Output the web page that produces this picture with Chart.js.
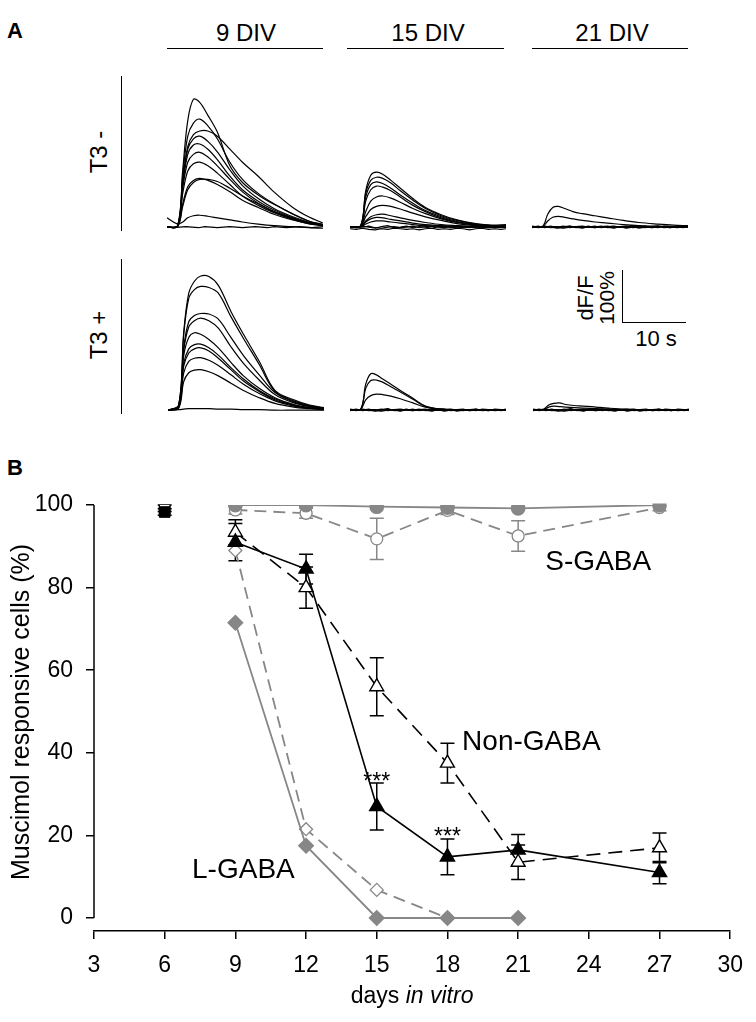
<!DOCTYPE html>
<html>
<head>
<meta charset="utf-8">
<script src="https://cdn.jsdelivr.net/npm/chart.js@4.4.1/dist/chart.umd.min.js"></script>
<style>
  body { margin: 0; background: #fff; font-family: "Liberation Sans", Arial, sans-serif; }
  #page { position: relative; width: 756px; height: 1022px; overflow: hidden; background: #fff; }
  .txt { position: absolute; line-height: 1; color: #000; white-space: nowrap; }
  .rot { transform: translate(-50%, -50%) rotate(-90deg); }
  .ln { position: absolute; background: #000; }
  canvas { position: absolute; }
</style>
</head>
<body>
<div id="page">
  <!-- Panel A decorations -->
  <div class="txt" style="left:7px; top:20px; font-size:22px; font-weight:bold;">A</div>
  <div class="txt" style="left:196px; top:21px; width:100px; text-align:center; font-size:24px;">9 DIV</div>
  <div class="txt" style="left:378px; top:21px; width:100px; text-align:center; font-size:24px;">15 DIV</div>
  <div class="txt" style="left:562px; top:21px; width:100px; text-align:center; font-size:24px;">21 DIV</div>
  <div class="ln" style="left:167px; top:47.5px; width:156px; height:1.5px;"></div>
  <div class="ln" style="left:347px; top:47.5px; width:157px; height:1.5px;"></div>
  <div class="ln" style="left:532px; top:47.5px; width:156px; height:1.5px;"></div>
  <div class="ln" style="left:120.5px; top:76px; width:1.5px; height:155px;"></div>
  <div class="ln" style="left:120.5px; top:259px; width:1.5px; height:155px;"></div>
  <div class="txt rot" style="left:99px; top:152px; font-size:24px;">T3 -</div>
  <div class="txt rot" style="left:99px; top:335px; font-size:24px;">T3 +</div>
  <!-- scale bar -->
  <div class="ln" style="left:621.5px; top:270px; width:1.5px; height:53px;"></div>
  <div class="ln" style="left:621.5px; top:321.5px; width:64px; height:1.5px;"></div>
  <div class="txt rot" style="left:586px; top:298px; font-size:22px;">dF/F</div>
  <div class="txt rot" style="left:606px; top:298px; font-size:21px;">100%</div>
  <div class="txt" style="left:616px; top:328px; width:80px; text-align:center; font-size:22px;">10 s</div>

  <canvas id="aM9" width="156" height="146" style="left:167px; top:89px;"></canvas>
  <canvas id="aM15" width="156" height="146" style="left:350px; top:89px;"></canvas>
  <canvas id="aM21" width="156" height="146" style="left:532px; top:89px;"></canvas>
  <canvas id="aP9" width="156" height="146" style="left:168px; top:272px;"></canvas>
  <canvas id="aP15" width="156" height="146" style="left:350px; top:272px;"></canvas>
  <canvas id="aP21" width="156" height="146" style="left:533px; top:272px;"></canvas>

  <!-- Panel B -->
  <div class="txt" style="left:7px; top:457px; font-size:22px; font-weight:bold;">B</div>
  <canvas id="chartB" width="756" height="582" style="left:0; top:440px;"></canvas>
</div>

<script>
// ----------------- Panel A data (dF/F in %, time in s) -----------------
const traceTimes = [0, 1.7, 2.5, 3.3, 4.2, 5.2, 6.5, 8, 10, 12, 14.5, 17, 20, 22.5, 24.8];
const noiseTimes = [0, 1, 2, 3, 4, 5, 6, 7, 8, 9, 10, 11, 12, 13, 14, 15, 16, 17, 18, 19, 20, 21, 22, 23, 24, 24.8];

const t3Minus9 = [
  [0, 3, 110, 205, 246, 240, 215, 183, 118, 86, 62, 44, 26, 12, 5],
  [0, 3, 100, 175, 200, 208, 195, 170, 125, 92, 65, 45, 25, 12, 5],
  [0, 2, 90, 155, 178, 185, 185, 175, 150, 125, 98, 68, 38, 20, 8],
  [0, 2, 85, 150, 170, 175, 165, 145, 110, 80, 55, 36, 20, 10, 4],
  [0, 2, 80, 140, 158, 160, 150, 130, 98, 72, 50, 33, 18, 9, 4],
  [0, 2, 75, 125, 140, 144, 135, 118, 92, 68, 46, 30, 17, 8, 3],
  [0, 2, 65, 108, 122, 125, 118, 104, 82, 60, 42, 28, 15, 7, 3],
  [0, 2, 45, 78, 90, 94, 90, 82, 68, 52, 38, 25, 14, 7, 3],
  [0, 2, 40, 72, 86, 92, 92, 88, 75, 60, 45, 30, 17, 8, 4],
  [18, 6, 10, 18, 22, 23, 21, 18, 14, 10, 6, 3, 1, -1, -2]
];
const t3Minus15 = [
  [0, 3, 70, 100, 106, 102, 90, 75, 55, 38, 24, 14, 7, 4, 5],
  [0, 3, 65, 90, 96, 94, 85, 70, 52, 36, 22, 13, 6, 3, 3],
  [0, 2, 58, 82, 87, 84, 75, 62, 46, 32, 20, 11, 5, 3, 2],
  [0, 2, 50, 72, 79, 77, 70, 58, 42, 30, 18, 10, 5, 2, 2],
  [0, 2, 30, 50, 58, 60, 56, 48, 36, 26, 16, 9, 4, 2, 1],
  [0, 2, 20, 34, 40, 42, 40, 35, 27, 20, 13, 7, 3, 1, 1],
  [0, 1, 12, 20, 24, 25, 22, 18, 13, 9, 5, 3, 1, 0, 0],
  [0, 1, 10, 16, 19, 18, 15, 12, 8, 5, 3, 1, 0, 0, 0],
  [0, 1, 6, 10, 12, 12, 10, 8, 5, 3, 2, 1, 0, 0, 0]
];
const t3Minus21 = [
  [0, 2, 25, 38, 40, 36, 30, 26, 22, 18, 13, 9, 6, 4, 3],
  [0, 1, 12, 19, 21, 19, 16, 13, 10, 8, 5, 3, 2, 1, 1]
];
const t3Plus9 = [
  [0, 10, 150, 225, 248, 258, 257, 240, 190, 146, 94, 38, 20, 10, 5],
  [0, 10, 145, 215, 232, 238, 236, 225, 180, 138, 88, 36, 18, 9, 4],
  [0, 8, 120, 170, 182, 186, 185, 175, 140, 105, 68, 34, 16, 8, 4],
  [0, 8, 115, 160, 172, 177, 172, 158, 122, 90, 58, 30, 14, 7, 3],
  [0, 8, 105, 140, 149, 146, 136, 120, 92, 66, 42, 24, 11, 5, 2],
  [0, 6, 90, 118, 126, 127, 120, 106, 82, 60, 38, 22, 10, 5, 2],
  [0, 6, 85, 110, 118, 120, 114, 100, 78, 56, 36, 20, 9, 4, 2],
  [0, 5, 72, 94, 100, 101, 96, 86, 68, 50, 32, 18, 8, 4, 2],
  [0, 4, 55, 72, 77, 78, 74, 66, 52, 38, 24, 13, 6, 3, 1],
  [0, 1, 2, 3, 3, 3, 3, 2, 2, 1, 1, 0, 0, 0, 0]
];
const t3Plus15 = [
  [0, 2, 50, 70, 68, 60, 50, 38, 23, 8, 2, 0, 1, 0, 0],
  [0, 2, 42, 57, 58, 54, 45, 35, 21, 7, 2, 0, 0, 1, 0],
  [0, 2, 20, 28, 31, 30, 27, 22, 14, 6, 2, 1, 0, 0, 0]
];
const t3Plus21 = [
  [0, 2, 10, 13, 14, 11, 9, 8, 6, 4, 2, 1, 0, 1, 0],
  [0, 1, 6, 8, 7, 6, 5, 4, 3, 2, 1, 0, 0, 0, 0]
];

// baseline (non-responding) traces, one list per panel
const noiseMinus9 = [
  [1, -1, 0, 1, 0, -1, 1, 0, -1, 0, 1, 0, -1, 0, 1, 0, -1, 1, 0, -1, 0, 1, 0, -1, 0, 1]
];
const noiseMinus15 = [
  [1, -1, 2, 0, -2, 1, 3, -1, 0, 2, -1, 1, 0, -2, 1, 2, -1, 0, 1, -1, 2, 0, -1, 1, 0, 2],
  [-1, 1, 0, 2, -1, -2, 0, 1, -1, 0, 2, -1, 1, 2, 0, -1, 1, -2, 0, 1, -1, 2, 1, -1, 0, 1],
  [-3, -4, -2, -4, -5, -3, -4, -2, -3, -4, -3, -5, -3, -2, -4, -3, -4, -2, -3, -5, -3, -2, -4, -3, -4, -3]
];
const noiseMinus21 = [
  [1, -1, 2, 0, -2, 1, 2, -1, 0, 2, -1, 1, 0, -2, 1, 2, -1, 0, 1, -1, 2, 0, -1, 1, 0, 1],
  [0, 2, -1, 1, 1, -1, 2, 0, -2, 1, 0, 2, -1, 0, 1, -2, 0, 1, 2, -1, 0, 1, -1, 2, 1, 0],
  [2, 0, 1, -1, 0, 2, -1, 1, 2, 0, -1, 1, 2, -1, 0, 1, 2, 0, -1, 1, 2, -1, 0, 1, -1, 1],
  [-1, 1, 0, 2, -1, -2, 0, 1, -1, 0, 2, -1, 1, 2, 0, -1, 1, -2, 0, 1, -1, 2, 1, -1, 0, 0]
];
const noisePlus15 = [
  [1, -1, 2, 0, -2, 1, 3, -1, 0, 2, -1, 1, 0, -2, 1, 2, -1, 0, 1, -1, 2, 0, -1, 1, 0, 2],
  [-1, 1, 0, 2, -1, -2, 0, 1, -1, 0, 2, -1, 1, 2, 0, -1, 1, -2, 0, 1, -1, 2, 1, -1, 0, 1],
  [0, 2, -1, 1, 1, -1, 2, 0, -2, 1, 0, 2, -1, 0, 1, -2, 0, 1, 2, -1, 0, 1, -1, 2, 1, 0],
  [2, 0, 1, -1, 0, 2, -1, 1, 2, 0, -1, 1, 2, -1, 0, 1, 2, 0, -1, 1, 2, -1, 0, 1, -1, 1]
];
const noisePlus21 = [
  [1, -1, 2, 0, -2, 1, 3, -1, 0, 2, -1, 1, 0, -2, 1, 2, -1, 0, 1, -1, 2, 0, -1, 1, 0, 2],
  [-1, 1, 0, 2, -1, -2, 0, 1, -1, 0, 2, -1, 1, 2, 0, -1, 1, -2, 0, 1, -1, 2, 1, -1, 0, 1],
  [0, 2, -1, 1, 1, -1, 2, 0, -2, 1, 0, 2, -1, 0, 1, -2, 0, 1, 2, -1, 0, 1, -1, 2, 1, 0],
  [2, 0, 1, -1, 0, 2, -1, 1, 2, 0, -1, 1, 2, -1, 0, 1, 2, 0, -1, 1, 2, -1, 0, 1, -1, 1]
];

// ----------------- Panel B data (% responsive cells) -----------------
const xTicks = [3, 6, 9, 12, 15, 18, 21, 24, 27, 30];
const yTicks = [0, 20, 40, 60, 80, 100];
const day6 = [6];
const allCellsFilled = [98.3];
const allCellsOpen = [99.2];
const allCellsErr = [0.8];
const days = [9, 12, 15, 18, 21, 27];
const sGabaFilled = [100, 100, 99.6, 99.4, 99.2, 100];
const sGabaOpen = [98.8, 98, 91.8, 98.7, 92.5, 99.4];
const sGabaOpenErr = [1, 1.2, 5, 1, 3.7, 0.8];
const nonGabaFilled = [91, 84.5, 27, 14.8, 16.5, 11];
const nonGabaFilledErr = [4.5, 3.6, 5.7, 4.3, 3.7, 2.7];
const nonGabaOpen = [93.4, 80, 56, 37.5, 13.5, 17];
const nonGabaOpenErr = [3, 5, 7, 4.8, 4.2, 3.6];
const lGabaDays = [9, 12, 15, 18, 21];
const lGabaFilled = [71.5, 17.5, 0, 0, 0];
const lGabaOpen = [89, 21.5, 6.8, 0, 0];

// text placed on panel B, in data units
const groupLabels = [
  { text: 'S-GABA', x: 24.4, y: 84.3 },
  { text: 'Non-GABA', x: 21.56, y: 40.7 },
  { text: 'L-GABA', x: 9.34, y: 9.7 }
];
const starLabels = [
  { text: '***', x: 15, y: 31.2 },
  { text: '***', x: 18, y: 17.9 }
];

const FONT = '"Liberation Sans", Arial, sans-serif';
const GRAY = '#878787';

// ----------------- Panel A charts -----------------
function pts(times, values) {
    return values.map((v, i) => ({ x: times[i], y: v }));
}

function traceChart(id, traces, noise) {
    const datasets = [];
    traces.forEach(tr => datasets.push({ data: pts(traceTimes, tr), tension: 0.35 }));
    noise.forEach(nz => datasets.push({ data: pts(noiseTimes, nz), tension: 0 }));
    new Chart(document.getElementById(id), {
        type: 'line',
        data: { datasets: datasets },
        options: {
            responsive: false,
            animation: false,
            layout: { padding: 0 },
            elements: {
                point: { radius: 0 },
                line: { borderColor: '#000', borderWidth: 1.2, fill: false }
            },
            plugins: { legend: { display: false }, tooltip: { enabled: false } },
            scales: {
                x: { type: 'linear', display: false, min: 0, max: 24.8 },
                y: { display: false, min: -15, max: 265.77 }
            }
        }
    });
}

traceChart('aM9', t3Minus9, noiseMinus9);
traceChart('aM15', t3Minus15, noiseMinus15);
traceChart('aM21', t3Minus21, noiseMinus21);
traceChart('aP9', t3Plus9, []);
traceChart('aP15', t3Plus15, noisePlus15);
traceChart('aP21', t3Plus21, noisePlus21);

// ----------------- Panel B chart -----------------
const errorBars = {
    id: 'errorBars',
    beforeDatasetsDraw(chart) {
        const { ctx, scales: { x, y } } = chart;
        chart.data.datasets.forEach(ds => {
            if (!ds.errs) return;
            ctx.save();
            ctx.strokeStyle = ds.borderColor;
            ctx.lineWidth = 1.5;
            ds.data.forEach((p, i) => {
                const e = ds.errs[i];
                if (!e) return;
                const px = x.getPixelForValue(p.x);
                const top = y.getPixelForValue(p.y + e);
                const bot = y.getPixelForValue(p.y - e);
                ctx.beginPath();
                ctx.moveTo(px, top); ctx.lineTo(px, bot);
                ctx.moveTo(px - 7, top); ctx.lineTo(px + 7, top);
                ctx.moveTo(px - 7, bot); ctx.lineTo(px + 7, bot);
                ctx.stroke();
            });
            ctx.restore();
        });
    }
};

const decorations = {
    id: 'decorations',
    afterDraw(chart) {
        const { ctx, chartArea, scales: { x, y } } = chart;
        ctx.save();
        // y axis line, from 0 to 100 only
        ctx.strokeStyle = '#000';
        ctx.lineWidth = 1.5;
        ctx.beginPath();
        ctx.moveTo(chartArea.left, y.getPixelForValue(0));
        ctx.lineTo(chartArea.left, y.getPixelForValue(100));
        ctx.stroke();

        ctx.fillStyle = '#000';
        ctx.textAlign = 'center';
        ctx.textBaseline = 'alphabetic';
        ctx.font = '28px ' + FONT;
        groupLabels.forEach(l => ctx.fillText(l.text, x.getPixelForValue(l.x), y.getPixelForValue(l.y)));
        ctx.font = '23px ' + FONT;
        starLabels.forEach(l => ctx.fillText(l.text, x.getPixelForValue(l.x), y.getPixelForValue(l.y)));

        // y title
        ctx.save();
        ctx.translate(22, 272);
        ctx.rotate(-Math.PI / 2);
        ctx.textBaseline = 'middle';
        ctx.font = '25px ' + FONT;
        ctx.fillText('Muscimol responsive cells (%)', 0, 0);
        ctx.restore();

        // x title with italic part
        const part1 = 'days ';
        const part2 = 'in vitro';
        ctx.textBaseline = 'middle';
        ctx.textAlign = 'left';
        ctx.font = '23px ' + FONT;
        const w1 = ctx.measureText(part1).width;
        ctx.font = 'italic 23px ' + FONT;
        const w2 = ctx.measureText(part2).width;
        const cx = (chartArea.left + chartArea.right) / 2;
        const start = cx - (w1 + w2) / 2;
        ctx.font = '23px ' + FONT;
        ctx.fillText(part1, start, 557);
        ctx.font = 'italic 23px ' + FONT;
        ctx.fillText(part2, start + w1, 557);
        ctx.restore();
    }
};

function series(xs, ys) {
    return xs.map((d, i) => ({ x: d, y: ys[i] }));
}

new Chart(document.getElementById('chartB'), {
    type: 'line',
    data: {
        datasets: [
            {
                data: series(day6, allCellsFilled), errs: allCellsErr,
                borderColor: '#000', backgroundColor: '#000',
                pointStyle: 'rect', pointRadius: 7.5, showLine: false
            },
            {
                data: series(day6, allCellsOpen), errs: allCellsErr,
                borderColor: '#000', backgroundColor: '#fff', pointBorderWidth: 1.3,
                pointStyle: 'rect', pointRadius: 7.5, showLine: false
            },
            {
                data: series(days, sGabaFilled),
                borderColor: GRAY, backgroundColor: GRAY, borderWidth: 1.8,
                pointStyle: 'circle', pointRadius: 6.5
            },
            {
                data: series(days, sGabaOpen), errs: sGabaOpenErr,
                borderColor: GRAY, backgroundColor: '#fff', borderWidth: 1.8, borderDash: [12, 7],
                pointBorderWidth: 1.3, pointStyle: 'circle', pointRadius: 6
            },
            {
                data: series(days, nonGabaFilled), errs: nonGabaFilledErr,
                borderColor: '#000', backgroundColor: '#000', borderWidth: 1.6,
                pointStyle: 'triangle', pointRadius: 8
            },
            {
                data: series(days, nonGabaOpen), errs: nonGabaOpenErr,
                borderColor: '#000', backgroundColor: '#fff', borderWidth: 1.6, borderDash: [14, 8],
                pointBorderWidth: 1.4, pointStyle: 'triangle', pointRadius: 8
            },
            {
                data: series(lGabaDays, lGabaFilled),
                borderColor: GRAY, backgroundColor: GRAY, borderWidth: 1.8,
                pointStyle: 'rectRot', pointRadius: 7
            },
            {
                data: series(lGabaDays, lGabaOpen),
                borderColor: GRAY, backgroundColor: '#fff', borderWidth: 1.8, borderDash: [12, 7],
                pointBorderWidth: 1.3, pointStyle: 'rectRot', pointRadius: 6.5
            }
        ]
    },
    options: {
        responsive: false,
        animation: false,
        layout: { padding: { left: 0, right: 19, top: 65, bottom: 0 } },
        elements: { line: { tension: 0, fill: false }, point: { hoverRadius: 6 } },
        plugins: { legend: { display: false }, tooltip: { enabled: false } },
        scales: {
            x: {
                type: 'linear', min: 3, max: 30,
                afterBuildTicks: s => { s.ticks = xTicks.map(v => ({ value: v })); },
                afterFit: s => { s.height = 91; },
                ticks: { color: '#000', font: { family: FONT, size: 23 }, padding: 13, maxRotation: 0 },
                grid: { drawOnChartArea: false, tickLength: 8, color: '#000', lineWidth: 1.5 },
                border: { display: true, color: '#000', width: 1.5 }
            },
            y: {
                min: -3.15, max: 100,
                afterBuildTicks: s => { s.ticks = yTicks.map(v => ({ value: v })); },
                afterFit: s => { s.width = 94; },
                ticks: { color: '#000', font: { family: FONT, size: 23 }, padding: 13 },
                grid: { drawOnChartArea: false, tickLength: 8, color: '#000', lineWidth: 1.5 },
                border: { display: false }
            }
        }
    },
    plugins: [errorBars, decorations]
});
</script>
</body>
</html>
